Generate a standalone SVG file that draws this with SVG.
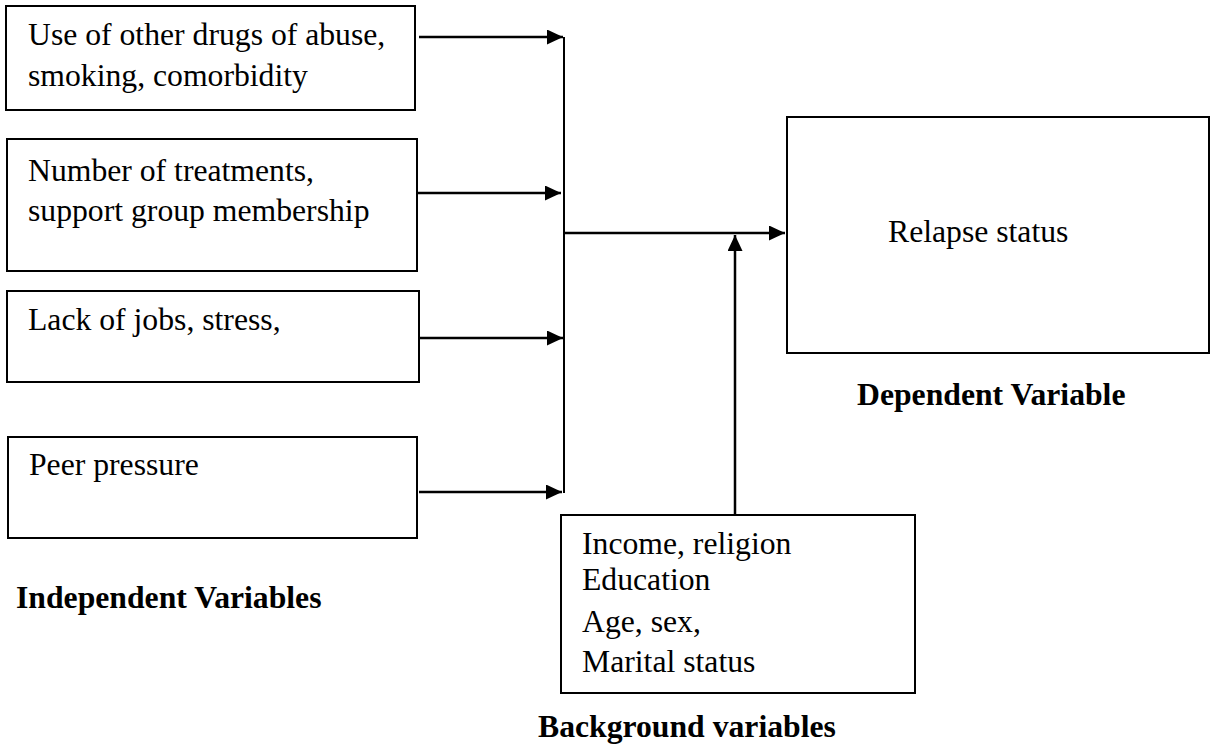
<svg xmlns="http://www.w3.org/2000/svg" width="1214" height="748" viewBox="0 0 1214 748">
<style>
  .box { fill: #ffffff; stroke: #000000; stroke-width: 2; }
  .t { font-family: 'Liberation Serif', 'DejaVu Serif', serif; font-size: 31.7px; font-weight: normal; fill: #000000; }
  .b { font-family: 'Liberation Serif', 'DejaVu Serif', serif; font-size: 31.7px; font-weight: bold; fill: #000000; }
  .arr { stroke: #000000; stroke-width: 2.5; fill: none; }
  .bus { stroke: #000000; stroke-width: 2; fill: none; }
</style>
<defs>
  <marker id="ah" markerUnits="userSpaceOnUse" markerWidth="16" markerHeight="15" refX="16" refY="7.5" orient="auto">
    <path d="M0,0 L16,7.5 L0,15 z" fill="#000000"/>
  </marker>
</defs>
<rect width="1214" height="748" fill="#ffffff"/>
<g id="connectors">
  <line class="arr" x1="419" y1="37" x2="563" y2="37" marker-end="url(#ah)"/>
  <line class="arr" x1="417" y1="193" x2="561" y2="193" marker-end="url(#ah)"/>
  <line class="arr" x1="419" y1="338" x2="563" y2="338" marker-end="url(#ah)"/>
  <line class="arr" x1="419" y1="492" x2="562" y2="492" marker-end="url(#ah)"/>
  <line class="bus" x1="564" y1="37" x2="564" y2="493"/>
  <line class="arr" x1="564" y1="233" x2="785" y2="233" marker-end="url(#ah)"/>
  <line class="arr" x1="735" y1="515" x2="735" y2="235" marker-end="url(#ah)"/>
</g>
<g id="node-drugs">
  <rect class="box" x="6" y="6" width="409" height="104"/>
  <text class="t" x="28" y="45">Use of other drugs of abuse,</text>
  <text class="t" x="28" y="86">smoking, comorbidity</text>
</g>
<g id="node-treatments">
  <rect class="box" x="7" y="139" width="410" height="132"/>
  <text class="t" x="28" y="181">Number of treatments,</text>
  <text class="t" x="28" y="221">support group membership</text>
</g>
<g id="node-jobs">
  <rect class="box" x="7" y="291" width="412" height="91"/>
  <text class="t" x="28" y="330">Lack of jobs, stress,</text>
</g>
<g id="node-peer">
  <rect class="box" x="8" y="437" width="409" height="101"/>
  <text class="t" x="29" y="475">Peer pressure</text>
</g>
<g id="label-independent">
  <text class="b" x="16" y="608">Independent Variables</text>
</g>
<g id="node-relapse">
  <rect class="box" x="787" y="117" width="422" height="236"/>
  <text class="t" x="888" y="242">Relapse status</text>
</g>
<g id="label-dependent">
  <text class="b" x="857" y="405">Dependent Variable</text>
</g>
<g id="node-background">
  <rect class="box" x="561" y="515" width="354" height="178"/>
  <text class="t" x="582" y="554">Income, religion</text>
  <text class="t" x="582" y="590">Education</text>
  <text class="t" x="582" y="632">Age, sex,</text>
  <text class="t" x="582" y="672">Marital status</text>
</g>
<g id="label-background">
  <text class="b" x="538" y="737">Background variables</text>
</g>
</svg>
